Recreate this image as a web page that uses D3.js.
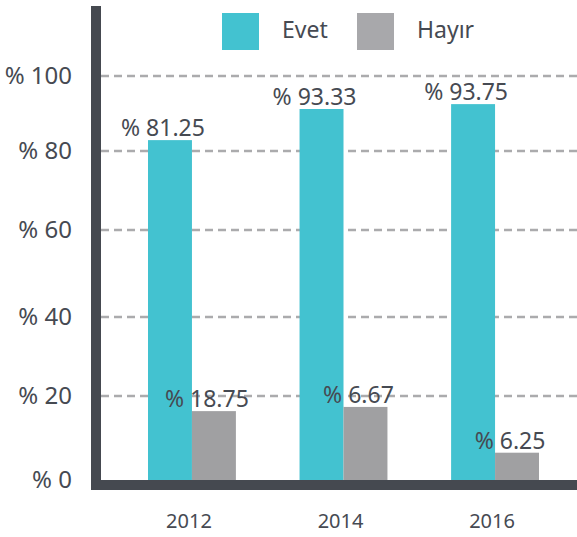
<!DOCTYPE html>
<html>
<head>
<meta charset="utf-8">
<script src="https://cdn.jsdelivr.net/npm/d3@7"></script>
<style>
  body { margin: 0; background: #fff; }
  svg text { font-family: "Noto Sans", sans-serif; fill: #464a52; }
</style>
</head>
<body>
<div id="chart"></div>
<script>
const w = 577;
const h = 537;

// data
const years = ["2012", "2014", "2016"];
const seriesNames = ["Evet", "Hayır"];
const seriesColors = ["#43c2d0", "#a0a0a2"];
// bar heights as drawn in the picture
const evetValues = [82.9, 91.2, 92.5];
const hayirValues = [16.4, 17.4, 6.5];
// values printed over the bars
const evetLabels = ["81.25", "93.33", "93.75"];
const hayirLabels = ["18.75", "6.67", "6.25"];
const yTicks = [0, 20, 40, 60, 80, 100];

const svg = d3.select("#chart")
  .append("svg")
  .attr("width", w)
  .attr("height", h);

const axisLeftX = 91;
const axisW = 10;
const baseY = 480;

// the gridlines in the original are not evenly spaced
const yScale = d3.scaleLinear()
  .domain(yTicks)
  .range([480, 396, 317, 230, 151, 76]);

const xScale = d3.scaleBand()
  .domain(years)
  .range([148, 539])
  .paddingInner(0.42);

const subScale = d3.scaleBand()
  .domain(seriesNames)
  .range([0, xScale.bandwidth()]);

// gridlines
svg.append("g")
  .selectAll("line")
  .data(yTicks.slice(1))
  .enter()
  .append("line")
  .attr("x1", axisLeftX + axisW)
  .attr("x2", w)
  .attr("y1", d => yScale(d))
  .attr("y2", d => yScale(d))
  .attr("stroke", "#ababad")
  .attr("stroke-width", 2.5)
  .attr("stroke-dasharray", "8,5");

// y labels
const yAxis = d3.axisLeft(yScale)
  .tickValues(yTicks)
  .tickSize(0)
  .tickPadding(19)
  .tickFormat(d => "% " + d);

svg.append("g")
  .attr("transform", `translate(${axisLeftX}, 0)`)
  .call(yAxis)
  .call(g => g.select(".domain").remove())
  .selectAll("text")
  .style("font-size", "24px")
  .attr("fill", "#464a52");

// bars
const rows = years.map((y, i) => ({
  year: y,
  vals: [
    { s: "Evet", v: evetValues[i], label: evetLabels[i] },
    { s: "Hayır", v: hayirValues[i], label: hayirLabels[i] }
  ]
}));

const groups = svg.selectAll(".grp")
  .data(rows)
  .enter()
  .append("g")
  .attr("class", "grp")
  .attr("transform", d => `translate(${xScale(d.year)}, 0)`);

groups.selectAll("rect")
  .data(d => d.vals)
  .enter()
  .append("rect")
  .attr("x", d => subScale(d.s))
  .attr("y", d => yScale(d.v))
  .attr("width", subScale.bandwidth())
  .attr("height", d => baseY - yScale(d.v))
  .attr("fill", d => seriesColors[seriesNames.indexOf(d.s)]);

groups.selectAll(".lbl")
  .data(d => d.vals)
  .enter()
  .append("text")
  .attr("class", "lbl")
  .attr("x", d => subScale(d.s) + subScale.bandwidth() / 2 - 7)
  .attr("y", d => yScale(d.v) - 4)
  .attr("text-anchor", "middle")
  .style("font-size", "23px")
  .text(d => "% " + d.label);

// axis bands
svg.append("rect")
  .attr("x", axisLeftX)
  .attr("y", 6)
  .attr("width", axisW)
  .attr("height", baseY + axisW - 6)
  .attr("fill", "#454950");

svg.append("rect")
  .attr("x", axisLeftX)
  .attr("y", baseY)
  .attr("width", w - axisLeftX)
  .attr("height", axisW)
  .attr("fill", "#454950");

// x labels
const xAxis = d3.axisBottom(xScale)
  .tickSize(0)
  .tickPadding(24);

svg.append("g")
  .attr("transform", `translate(-3, ${baseY + axisW})`)
  .call(xAxis)
  .call(g => g.select(".domain").remove())
  .selectAll("text")
  .style("font-size", "20px")
  .attr("fill", "#464a52");

// legend
const legendX = [222, 357];
const legend = svg.selectAll(".leg")
  .data(seriesNames)
  .enter()
  .append("g")
  .attr("class", "leg")
  .attr("transform", (d, i) => `translate(${legendX[i]}, 13)`);

legend.append("rect")
  .attr("width", 37)
  .attr("height", 37)
  .attr("fill", (d, i) => i === 0 ? seriesColors[0] : "#a8a8ab");

legend.append("text")
  .attr("x", 60)
  .attr("y", 25)
  .style("font-size", "23px")
  .text(d => d);
</script>
</body>
</html>
